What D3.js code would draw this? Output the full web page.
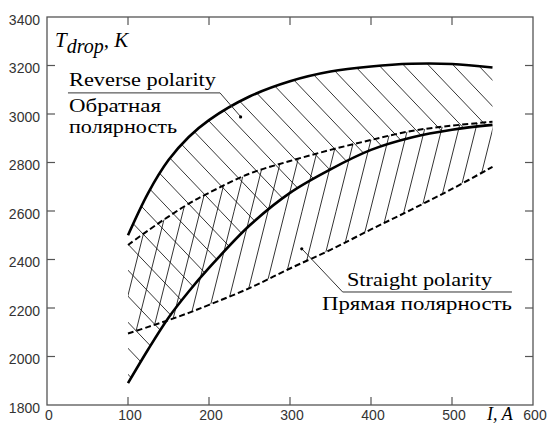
<!DOCTYPE html>
<html><head><meta charset="utf-8">
<script src="https://cdn.jsdelivr.net/npm/d3@7"></script>
<style>body{margin:0;background:#fff;overflow:hidden} svg{display:block}</style>
</head><body><svg id="c" width="548" height="423"></svg>
<script>
// Current, A
const current = [100,125,150,175,200,250,300,350,400,450,500,550];
// Reverse polarity band (solid boundaries), K
const reverseUpper = [2500,2675,2810,2905,2975,3072,3135,3175,3196,3207,3206,3192];
const reverseLower = [1890,2030,2160,2268,2365,2540,2675,2772,2852,2903,2935,2955];
// Straight polarity band (dashed boundaries), K
const straightUpper = [2460,2520,2577,2630,2675,2754,2806,2852,2893,2930,2952,2968];
const straightLower = [2095,2122,2150,2180,2213,2282,2363,2440,2524,2606,2691,2782];
const xTicks = [0,100,200,300,400,500,600];
const yTicks = [1800,2000,2200,2400,2600,2800,3000,3200,3400];

const SERIF = "'Liberation Serif','Times New Roman',serif";
const SANS = "'Liberation Sans',Arial,sans-serif";

const svg = d3.select('#c');
const W = 548, H = 423;
const x = d3.scaleLinear().domain([0,600]).range([47,533]);
const y = d3.scaleLinear().domain([1800,3400]).range([405,17]);

const idx = d3.range(current.length);
const crv = d3.curveCatmullRom.alpha(0.5);
const area = (lo, hi) => d3.area().x(i=>x(current[i])).y0(i=>y(lo[i])).y1(i=>y(hi[i])).curve(crv);
const line = arr => d3.line().x(i=>x(current[i])).y(i=>y(arr[i])).curve(crv);

const defs = svg.append('defs');
function hatchRegion(id, lo, hi, spacing, dx, dy){
  defs.append('clipPath').attr('id',id).append('path').datum(idx).attr('d', area(lo, hi));
  const gg = svg.append('g').attr('clip-path',`url(#${id})`)
    .attr('stroke','#111').attr('stroke-width',0.85);
  // family of parallel lines with direction (dx,dy), spaced horizontally
  const L = 1200;
  for (let x0 = -W; x0 < 2*W; x0 += spacing){
    gg.append('line').attr('x1',x0).attr('y1',H/2).attr('x2',x0+dx*L).attr('y2',H/2+dy*L);
    gg.append('line').attr('x1',x0).attr('y1',H/2).attr('x2',x0-dx*L).attr('y2',H/2-dy*L);
  }
}
hatchRegion('cRev', reverseLower, reverseUpper, 24.8, 0.69, 0.724);
hatchRegion('cStr', straightLower, straightUpper, 17, 0.243, -0.97);

// boundaries
[straightUpper, straightLower].forEach(a=>{
  svg.append('path').datum(idx).attr('d', line(a)).attr('fill','none')
    .attr('stroke','#000').attr('stroke-width',2).attr('stroke-dasharray','6,3');
});
[reverseUpper, reverseLower].forEach(a=>{
  svg.append('path').datum(idx).attr('d', line(a)).attr('fill','none')
    .attr('stroke','#000').attr('stroke-width',2.6);
});

// frame & ticks
const axisCol = '#555';
svg.append('rect').attr('x',x(0)).attr('y',y(3400)).attr('width',x(600)-x(0)).attr('height',y(1800)-y(3400))
  .attr('fill','none').attr('stroke',axisCol).attr('stroke-width',1.3);
const tl = 8;
const g = svg.append('g').attr('stroke',axisCol).attr('stroke-width',1.2);
xTicks.slice(1,-1).forEach(v=>{
  g.append('line').attr('x1',x(v)).attr('x2',x(v)).attr('y1',y(1800)).attr('y2',y(1800)-tl);
  g.append('line').attr('x1',x(v)).attr('x2',x(v)).attr('y1',y(3400)).attr('y2',y(3400)+tl);
});
yTicks.slice(1,-1).forEach(v=>{
  g.append('line').attr('x1',x(0)).attr('x2',x(0)+tl).attr('y1',y(v)).attr('y2',y(v));
  g.append('line').attr('x1',x(600)).attr('x2',x(600)-tl).attr('y1',y(v)).attr('y2',y(v));
});
svg.append('g').selectAll('text').data(yTicks).join('text')
  .style('font-family',SANS).style('font-size','14px')
  .attr('x',x(0)-7).attr('y',d=>y(d)+3).attr('dy','0.35em')
  .attr('text-anchor','end').attr('fill','#333')
  .text(d=>d);
svg.append('g').selectAll('text').data(xTicks).join('text')
  .style('font-family',SANS).style('font-size','14px')
  .attr('x',d=>x(d)+2).attr('y',420)
  .attr('text-anchor','middle').attr('fill','#333')
  .text(d=>d);

// axis titles
const yt = svg.append('text').style('font-family',SERIF).style('font-style','italic').style('font-size','21px')
  .attr('x',55).attr('y',47);
yt.append('tspan').text('T');
yt.append('tspan').attr('dy',6).style('font-size','20px').text('drop');
yt.append('tspan').attr('dy',-6).text(', K');
svg.append('text').style('font-family',SERIF).style('font-style','italic').style('font-size','18px')
  .attr('x',487).attr('y',420).text('I, A');

// annotations
const leader = (pts) => svg.append('path').attr('d', d3.line()(pts.map(p=>[x(p[0]),y(p[1])])))
  .attr('fill','none').attr('stroke','#333').attr('stroke-width',1);
leader([[25.9,3087],[213.6,3087],[238.3,2992]]);
leader([[574,2266],[365,2266],[315,2443]]);
svg.append('circle').attr('cx',x(239)).attr('cy',y(2988)).attr('r',1.6).attr('fill','#000');
svg.append('circle').attr('cx',x(314.5)).attr('cy',y(2444)).attr('r',1.6).attr('fill','#000');

const ann = (txt, px, py, w) => svg.append('text').style('font-family',SERIF).style('font-size','19px')
  .attr('x',px).attr('y',py).attr('fill','#000')
  .attr('textLength',w).attr('lengthAdjust','spacingAndGlyphs').text(txt);
ann('Reverse polarity', 69, 86, 147);
ann('Обратная', 69, 112, 92);
ann('полярность', 69, 133, 108);
ann('Straight polarity', 347, 286, 145);
ann('Прямая полярность', 322, 310, 190);
</script></body></html>
